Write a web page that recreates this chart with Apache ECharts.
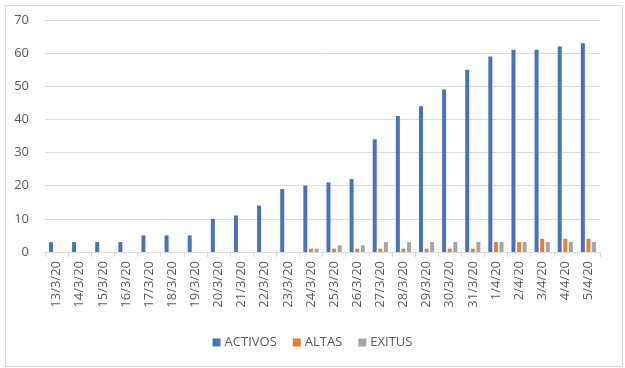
<!DOCTYPE html>
<html>
<head>
<meta charset="utf-8">
<script src="https://cdn.jsdelivr.net/npm/echarts@6/dist/echarts.min.js"></script>
<style>
html,body{margin:0;padding:0;background:#fff;}
#chart{width:625px;height:368px;}
</style>
</head>
<body>
<div id="chart"></div>
<script>
const categories = ['13/3/20','14/3/20','15/3/20','16/3/20','17/3/20','18/3/20','19/3/20','20/3/20','21/3/20','22/3/20','23/3/20','24/3/20','25/3/20','26/3/20','27/3/20','28/3/20','29/3/20','30/3/20','31/3/20','1/4/20','2/4/20','3/4/20','4/4/20','5/4/20'];
const activos = [3,3,3,3,5,5,5,10,11,14,19,20,21,22,34,41,44,49,55,59,61,61,62,63];
const altas   = [0,0,0,0,0,0,0,0,0,0,0,1,1,1,1,1,1,1,1,3,3,4,4,4];
const exitus  = [0,0,0,0,0,0,0,0,0,0,0,1,2,2,3,3,3,3,3,3,3,3,3,3];
const yTicks = [0,10,20,30,40,50,60,70];

const chart = echarts.init(document.getElementById('chart'), null, {renderer:'canvas'});
const font = "'Open Sans', 'Liberation Sans', sans-serif";
const barW = 4;
chart.setOption({
  animation:false,
  textStyle:{fontFamily:font},
  graphic:[{type:'rect',left:3,top:3,shape:{width:617,height:361},style:{fill:'none',stroke:'#d9d9d9',lineWidth:1}}],
  grid:{left:45,right:25,top:20,bottom:116},
  legend:{
    top:331,left:'center',itemWidth:8,itemHeight:8,itemGap:16,
    icon:'rect',
    textStyle:{color:'#595959',fontSize:13,fontFamily:font,padding:[0,0,0,-1]},
    data:['ACTIVOS','ALTAS','EXITUS']
  },
  xAxis:{
    type:'category',data:categories,
    axisLine:{lineStyle:{color:'#d9d9d9'}},
    axisTick:{show:true,length:5,lineStyle:{color:'#d9d9d9'}},
    axisLabel:{rotate:90,color:'#595959',fontSize:13,margin:9,interval:0,fontFamily:font}
  },
  yAxis:{
    type:'value',min:yTicks[0],max:yTicks[yTicks.length-1],interval:10,
    axisLine:{show:false},axisTick:{show:false},
    axisLabel:{color:'#595959',fontSize:13,margin:16,fontFamily:font},
    splitLine:{lineStyle:{color:'#d9d9d9'}}
  },
  series:[
    {name:'ACTIVOS',type:'bar',data:activos,barWidth:barW,barGap:'40%',itemStyle:{color:'#4472C4'}},
    {name:'ALTAS',type:'bar',data:altas,barWidth:barW,barGap:'40%',itemStyle:{color:'#ED7D31'}},
    {name:'EXITUS',type:'bar',data:exitus,barWidth:barW,barGap:'40%',itemStyle:{color:'#A5A5A5'}}
  ]
});
</script>
</body>
</html>
